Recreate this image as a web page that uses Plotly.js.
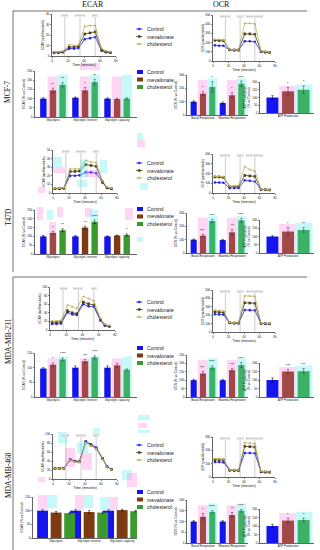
<!DOCTYPE html>
<html>
<head>
<meta charset="utf-8">
<script src="https://cdn.plot.ly/plotly-3.0.1.min.js"></script>
<style>
	html, body { margin: 0; padding: 0; background: #fff; }
	#fig { width: 320px; height: 550px; }
</style>
</head>
<body>
<div id="fig"></div>
<script>
// ---- data ----
var times = [ 2.5, 8, 13.5, 21.5, 27.5, 33, 41, 47.5, 54, 62, 67.5, 73 ];
var injectTimes = [ 16, 35, 54 ];
var ecarInjectLabels = [ "Glucose", "Oligomycin", "2-DG" ];
var ocrInjectLabels = [ "Oligomycin", "FCCP", "Rotenone/antimycin" ];
var groups = [ "Control", "mevalonate", "cholesterol" ];
var cellLines = [ "MCF-7", "T47D", "MDA-MB-231", "MDA-MB-468" ];
var ecarCats = [ "Glycolysis", "Glycolytic reserve", "Glycolytic capacity" ];
var ocrCats = [ "Basal Respiration", "Maximal Respiration" ];
var atpCats = [ "ATP Production" ];

// time courses: [ Control, mevalonate, cholesterol ]
var ecarMcf7 = [
	[ 3, 3, 3.5, 7, 7, 7.5, 16, 17, 18, 5, 3.5, 3 ],
	[ 3.5, 3.5, 4, 8.5, 8.5, 9, 21, 22, 23, 6, 4, 3.5 ],
	[ 4, 4, 4.5, 11, 10, 10.5, 28, 29, 29, 7, 5, 4 ]
];
var ecarT47d = [
	[ 5, 5, 5.5, 20, 20, 20.5, 24, 24, 23, 12, 6, 5 ],
	[ 5, 5, 5.5, 25, 25, 25.5, 33, 32, 31, 13, 6, 5 ],
	[ 5.5, 5.5, 6, 28, 28, 28, 38, 36, 35, 14, 7, 5.5 ]
];
var ecarMda231 = [
	[ 14, 14, 15, 41, 36, 35, 60, 55, 54, 22, 10, 8 ],
	[ 18, 18, 19, 45, 40, 38, 65, 61, 58, 25, 12, 9 ],
	[ 21, 21, 22, 58, 54, 50, 78, 73, 68, 27, 13, 10 ]
];
var ecarMda468 = [
	[ 24, 24, 24, 44, 40, 39, 84, 77, 70, 46, 28, 22 ],
	[ 23, 23, 23.5, 42, 39, 38, 82, 75, 68, 45, 27, 21 ],
	[ 23, 23, 23, 42, 38, 37, 81, 74, 67, 44, 27, 21 ]
];
var ocrMcf7 = [
	[ 170, 165, 165, 120, 118, 118, 215, 215, 210, 100, 95, 92 ],
	[ 225, 222, 220, 122, 120, 120, 295, 295, 290, 105, 98, 95 ],
	[ 235, 232, 230, 125, 122, 122, 410, 410, 405, 110, 100, 98 ]
];
var ocrT47d = [
	[ 108, 108, 105, 50, 50, 52, 130, 125, 118, 35, 32, 30 ],
	[ 165, 165, 160, 65, 65, 68, 180, 175, 170, 38, 34, 32 ],
	[ 172, 170, 168, 72, 72, 75, 270, 240, 225, 40, 35, 33 ]
];
var ocrMda231 = [
	[ 212, 208, 205, 108, 105, 105, 262, 260, 258, 100, 98, 96 ],
	[ 240, 236, 232, 110, 107, 106, 348, 345, 342, 103, 100, 98 ],
	[ 260, 255, 250, 112, 110, 108, 430, 428, 425, 105, 102, 100 ]
];
var ocrMda468 = [
	[ 112, 112, 110, 50, 48, 48, 180, 180, 178, 38, 36, 36 ],
	[ 130, 130, 128, 52, 50, 50, 230, 228, 225, 40, 38, 37 ],
	[ 138, 136, 135, 54, 52, 52, 258, 255, 250, 42, 40, 38 ]
];

// bar charts: [ Control, mevalonate, cholesterol ] x categories
var ecarBarsMcf7 = [ [ 100, 105, 100 ], [ 145, 145, 98 ], [ 175, 190, 100 ] ];
var ecarErrMcf7 = [ [ 5, 4, 4 ], [ 12, 15, 4 ], [ 12, 15, 5 ] ];
var ecarStarsMcf7 = [ [ "", "", "" ], [ "**", "*", "" ], [ "**", "**", "" ] ];
var ocrBarsMcf7 = [ [ 100, 90 ], [ 160, 148 ], [ 210, 235 ] ];
var ocrErrMcf7 = [ [ 6, 8 ], [ 15, 20 ], [ 40, 20 ] ];
var ocrStarsMcf7 = [ [ "", "" ], [ "*", "*" ], [ "*", "****" ] ];
var atpBarsMcf7 = [ [ 100 ], [ 140 ], [ 150 ] ];
var atpErrMcf7 = [ [ 12 ], [ 25 ], [ 25 ] ];
var atpStarsMcf7 = [ [ "" ], [ "*" ], [ "*" ] ];

var ecarBarsT47d = [ [ 100, 100, 100 ], [ 120, 150, 105 ], [ 135, 183, 108 ] ];
var ecarErrT47d = [ [ 5, 5, 3 ], [ 8, 8, 3 ], [ 8, 10, 6 ] ];
var ecarStarsT47d = [ [ "", "", "" ], [ "*", "**", "" ], [ "**", "****", "*" ] ];
var ocrBarsT47d = [ [ 100, 97 ], [ 130, 155 ], [ 240, 245 ] ];
var ocrErrT47d = [ [ 5, 5 ], [ 10, 20 ], [ 12, 15 ] ];
var ocrStarsT47d = [ [ "", "" ], [ "***", "**" ], [ "****", "****" ] ];
var atpBarsT47d = [ [ 100 ], [ 130 ], [ 140 ] ];
var atpErrT47d = [ [ 5 ], [ 25 ], [ 15 ] ];
var atpStarsT47d = [ [ "" ], [ "*" ], [ "**" ] ];

var ecarBarsMda231 = [ [ 97, 100, 100 ], [ 110, 122, 108 ], [ 128, 135, 93 ] ];
var ecarErrMda231 = [ [ 3, 6, 6 ], [ 6, 6, 7 ], [ 5, 5, 3 ] ];
var ecarStarsMda231 = [ [ "", "", "" ], [ "*", "***", "" ], [ "****", "****", "" ] ];
var ocrBarsMda231 = [ [ 100, 100 ], [ 140, 160 ], [ 175, 190 ] ];
var ocrErrMda231 = [ [ 5, 5 ], [ 12, 10 ], [ 10, 15 ] ];
var ocrStarsMda231 = [ [ "", "" ], [ "***", "***" ], [ "****", "****" ] ];
var atpBarsMda231 = [ [ 100 ], [ 150 ], [ 152 ] ];
var atpErrMda231 = [ [ 12 ], [ 12 ], [ 15 ] ];
var atpStarsMda231 = [ [ "" ], [ "***" ], [ "***" ] ];

var ecarBarsMda468 = [ [ 100, 100, 100 ], [ 93, 95, 102 ], [ 91, 93, 98 ] ];
var ecarErrMda468 = [ [ 4, 4, 4 ], [ 4, 5, 3 ], [ 3, 3, 3 ] ];
var ecarStarsMda468 = [ [ "", "", "" ], [ "", "", "" ], [ "", "", "" ] ];
var ocrBarsMda468 = [ [ 100, 100 ], [ 122, 130 ], [ 144, 150 ] ];
var ocrErrMda468 = [ [ 4, 4 ], [ 15, 12 ], [ 6, 6 ] ];
var ocrStarsMda468 = [ [ "", "" ], [ "*", "**" ], [ "****", "****" ] ];
var atpBarsMda468 = [ [ 100 ], [ 132 ], [ 135 ] ];
var atpErrMda468 = [ [ 10 ], [ 15 ], [ 12 ] ];
var atpStarsMda468 = [ [ "" ], [ "*" ], [ "*" ] ];


// ---- styling / placement ----
var tcColors 	= [ "#2424ff", "#4f3f12", "#c2b55c" ],
	tcSymbols 	= [ "circle", "square", "triangle-up" ],
	barColors 	= [ "#1414ee", "#7d3b12", "#3a9a2e" ],
	fontSans 	= "Liberation Sans, Arial, sans-serif",
	fontSerif 	= "Liberation Serif, Times New Roman, serif";

var W = 320, H = 550;
function px( v ) { return v / W; }
function py( v ) { return 1 - v / H; }

// pixel boxes [ x0, x1, y0, y1 ] per row
var rows = [
	{ ecarTc: ecarMcf7, ocrTc: ocrMcf7, ecarMax: 40, ecarStep: 10, ocrMax: 500, ocrStep: 100,
	  ecarBars: ecarBarsMcf7, ecarErr: ecarErrMcf7, ecarStars: ecarStarsMcf7, ecarBarMax: 250, ecarBarStep: 50,
	  ocrBars: ocrBarsMcf7, ocrErr: ocrErrMcf7, ocrStars: ocrStarsMcf7, ocrBarMax: 300, ocrBarStep: 100,
	  atpBars: atpBarsMcf7, atpErr: atpErrMcf7, atpStars: atpStarsMcf7,
	  boxEcarTc: [ 52, 116, 14, 56 ], boxEcarBar: [ 35, 137, 71, 117 ], boxOcrTc: [ 213, 275, 15, 61 ],
	  boxOcrBar: [ 187, 248, 75, 115 ], boxAtp: [ 260, 314, 82, 113 ], labelY: 92, tcLeg: 29, barLeg: 72, wide: false, overlay: true },
	{ ecarTc: ecarT47d, ocrTc: ocrT47d, ecarMax: 50, ecarStep: 10, ocrMax: 400, ocrStep: 100,
	  ecarBars: ecarBarsT47d, ecarErr: ecarErrT47d, ecarStars: ecarStarsT47d, ecarBarMax: 250, ecarBarStep: 50,
	  ocrBars: ocrBarsT47d, ocrErr: ocrErrT47d, ocrStars: ocrStarsT47d, ocrBarMax: 300, ocrBarStep: 100,
	  atpBars: atpBarsT47d, atpErr: atpErrT47d, atpStars: atpStarsT47d,
	  boxEcarTc: [ 53, 117, 150, 193 ], boxEcarBar: [ 35, 137, 210, 254 ], boxOcrTc: [ 213, 275, 154, 193 ],
	  boxOcrBar: [ 187, 248, 213, 253 ], boxAtp: [ 260, 314, 220, 253 ], labelY: 217, tcLeg: 163, barLeg: 209, wide: false, overlay: false },
	{ ecarTc: ecarMda231, ocrTc: ocrMda231, ecarMax: 100, ecarStep: 20, ocrMax: 500, ocrStep: 100,
	  ecarBars: ecarBarsMda231, ecarErr: ecarErrMda231, ecarStars: ecarStarsMda231, ecarBarMax: 150, ecarBarStep: 50,
	  ocrBars: ocrBarsMda231, ocrErr: ocrErrMda231, ocrStars: ocrStarsMda231, ocrBarMax: 250, ocrBarStep: 50,
	  atpBars: atpBarsMda231, atpErr: atpErrMda231, atpStars: atpStarsMda231,
	  boxEcarTc: [ 50, 115, 287, 330 ], boxEcarBar: [ 35, 137, 353, 397 ], boxOcrTc: [ 213, 275, 290, 332 ],
	  boxOcrBar: [ 187, 248, 355, 397 ], boxAtp: [ 260, 314, 363, 397 ], labelY: 341, tcLeg: 302, barLeg: 348, wide: false, overlay: true },
	{ ecarTc: ecarMda468, ocrTc: ocrMda468, ecarMax: 100, ecarStep: 20, ocrMax: 300, ocrStep: 100,
	  ecarBars: ecarBarsMda468, ecarErr: ecarErrMda468, ecarStars: ecarStarsMda468, ecarBarMax: 150, ecarBarStep: 50,
	  ocrBars: ocrBarsMda468, ocrErr: ocrErrMda468, ocrStars: ocrStarsMda468, ocrBarMax: 200, ocrBarStep: 50,
	  atpBars: atpBarsMda468, atpErr: atpErrMda468, atpStars: atpStarsMda468,
	  boxEcarTc: [ 53, 117, 434, 479 ], boxEcarBar: [ 33, 137, 497, 538 ], boxOcrTc: [ 213, 275, 437, 477 ],
	  boxOcrBar: [ 187, 248, 500, 543 ], boxAtp: [ 260, 314, 509, 543 ], labelY: 475, tcLeg: 445, barLeg: 492, wide: true, overlay: false }
];

// scanner-like pink / cyan blotches on the original, in pixels [ x0, y0, x1, y1, colour ]
var PINK = "rgba(255,110,215,0.28)", CYAN = "rgba(70,235,235,0.3)";
var blotches = [
	[ 80, 63, 100, 70, PINK ], [ 137, 133, 143, 140, CYAN ],
	[ 53, 157, 62, 167, CYAN ], [ 53, 167, 65, 173, PINK ], [ 80, 160, 88, 177, CYAN ],
	[ 85, 170, 100, 177, PINK ], [ 100, 160, 107, 173, CYAN ], [ 137, 140, 145, 147, PINK ],
	[ 140, 183, 148, 190, CYAN ], [ 38, 187, 45, 193, PINK ], [ 77, 180, 87, 187, CYAN ],
	[ 37, 207, 43, 220, PINK ], [ 47, 210, 53, 220, CYAN ], [ 57, 207, 63, 217, PINK ],
	[ 85, 208, 92, 217, PINK ], [ 90, 210, 98, 222, CYAN ], [ 125, 208, 133, 220, PINK ], [ 137, 237, 143, 242, CYAN ],
	[ 49, 222, 56, 254, PINK ],
	[ 138, 415, 150, 420, CYAN ], [ 138, 423, 147, 428, PINK ], [ 138, 430, 150, 433, CYAN ],
	[ 38, 477, 45, 482, PINK ], [ 58, 432, 67, 443, CYAN ], [ 65, 448, 75, 467, PINK ],
	[ 77, 442, 88, 453, CYAN ], [ 82, 453, 92, 470, PINK ], [ 122, 470, 132, 480, CYAN ],
	[ 127, 473, 137, 487, PINK ], [ 93, 428, 100, 435, CYAN ],
	[ 38, 495, 47, 510, PINK ], [ 47, 495, 57, 508, CYAN ], [ 75, 495, 83, 510, PINK ],
	[ 83, 495, 93, 508, CYAN ], [ 100, 497, 110, 510, CYAN ], [ 110, 497, 118, 510, PINK ]
];


// ---- build figure ----
var traces = [], shapes = [], annotations = [];
var layout = {
	width: W, height: H,
	margin: { l: 0, r: 0, t: 0, b: 0 },
	paper_bgcolor: "#fff", plot_bgcolor: "rgba(0,0,0,0)",
	showlegend: false,
	barmode: "overlay",
	font: { family: fontSans, size: 3.5, color: "#111" }
};

function axBase( extra )
{
	return Object.assign( {
		showline: true, linecolor: "#000", linewidth: 0.6,
		ticks: "outside", ticklen: 1.5, tickwidth: 0.5, tickcolor: "#000",
		tickfont: { size: 3, family: fontSans, color: "#111" },
		showgrid: false, zeroline: false, fixedrange: true, automargin: false
	}, extra );
}

function tickList( max, step )
{
	let t = [];
	for( let v = 0; v <= max + 1e-9; v += step )
		t.push( v );
	return t;
}

var axisCount = 0;
function addAxes( box, xopt, yopt )
{
	axisCount++;
	let s = axisCount === 1 ? "" : axisCount;
	layout[ "xaxis" + s ] = axBase( Object.assign( { domain: [ px( box[ 0 ] ), px( box[ 1 ] ) ], anchor: "y" + s }, xopt ) );
	layout[ "yaxis" + s ] = axBase( Object.assign( { domain: [ py( box[ 3 ] ), py( box[ 2 ] ) ], anchor: "x" + s }, yopt ) );
	return { xa: "x" + s, ya: "y" + s };
}

function timeCourse( box, series, yMax, yStep, yTitle, injLabels )
{
	let ax = addAxes( box,
		{ range: [ 0, 80 ], tickvals: [ 0, 20, 40, 60, 80 ],
		  title: { text: "Time (minutes)", font: { size: 3.5 }, standoff: 1 } },
		{ range: [ 0, yMax ], tickvals: tickList( yMax, yStep ),
		  title: { text: yTitle, font: { size: 3 }, standoff: 1 } } );

	for( let k = 0; k < 3; k++ )
	{
		traces.push( {
			type: "scatter", mode: "lines+markers",
			x: times, y: series[ k ],
			xaxis: ax.xa, yaxis: ax.ya,
			line: { color: tcColors[ k ], width: 0.8 },
			marker: { color: tcColors[ k ], size: 2.6, symbol: tcSymbols[ k ] },
			hoverinfo: "skip"
		} );
	}

	for( let i = 0; i < injectTimes.length; i++ )
	{
		shapes.push( {
			type: "line", xref: ax.xa, yref: ax.ya + " domain",
			x0: injectTimes[ i ], x1: injectTimes[ i ], y0: 0, y1: 1,
			line: { color: "#999", width: 0.5 }
		} );
		annotations.push( {
			xref: ax.xa, yref: ax.ya + " domain", x: injectTimes[ i ], y: 0.99,
			xanchor: "center", yanchor: "top", showarrow: false,
			text: injLabels[ i ], font: { size: 1.8, color: "#777" },
			bgcolor: "#fff", bordercolor: "#aaa", borderwidth: 0.25, borderpad: 0.2
		} );
	}
}

function barChart( box, cats, vals, errs, stars, yMax, yStep, yTitle, xRange, spacing, barW, overlay )
{
	let ax = addAxes( box,
		{ type: "category", range: xRange, ticks: "", tickangle: 0,
		  tickfont: { size: 3, family: fontSans, color: "#111" } },
		{ range: [ 0, yMax ], tickvals: tickList( yMax, yStep ),
		  title: { text: yTitle, font: { size: 3.2 }, standoff: 1 } } );

	for( let k = 0; k < 3; k++ )
	{
		traces.push( {
			type: "bar", x: cats, y: vals[ k ],
			xaxis: ax.xa, yaxis: ax.ya,
			width: barW, offset: ( k - 1 ) * spacing - barW / 2,
			marker: { color: barColors[ k ], line: { width: 0 } },
			error_y: { type: "data", array: errs[ k ], visible: true, color: "#000", thickness: 0.5, width: 1.2 },
			hoverinfo: "skip"
		} );

		for( let i = 0; i < cats.length; i++ )
		{
			if( !stars[ k ][ i ] )
				continue;
			annotations.push( {
				xref: ax.xa, yref: ax.ya, x: i + ( k - 1 ) * spacing, y: vals[ k ][ i ] + errs[ k ][ i ],
				xanchor: "center", yanchor: "bottom", yshift: -0.5, showarrow: false,
				text: stars[ k ][ i ], font: { size: 3.6, color: "#000" }
			} );
		}
	}

	if( overlay )
	{
		for( let i = 0; i < cats.length; i++ )
		{
			shapes.push( { type: "rect", layer: "above", xref: ax.xa, yref: ax.ya + " domain",
				x0: i - spacing / 2 - 0.02, x1: i + spacing / 2, y0: 0, y1: 0.88,
				fillcolor: PINK, line: { width: 0 } } );
			shapes.push( { type: "rect", layer: "above", xref: ax.xa, yref: ax.ya + " domain",
				x0: i + spacing / 2, x1: i + 1.5 * spacing + 0.02, y0: 0, y1: 0.92,
				fillcolor: CYAN, line: { width: 0 } } );
		}
	}
}

function legendBlock( top, isBar )
{
	for( let k = 0; k < 3; k++ )
	{
		let yc = top + k * 7.5;
		if( isBar )
		{
			shapes.push( { type: "rect", xref: "paper", yref: "paper",
				x0: px( 137 ), x1: px( 143 ), y0: py( yc + 2 ), y1: py( yc - 2 ),
				fillcolor: barColors[ k ], line: { width: 0 } } );
		}
		else
		{
			shapes.push( { type: "line", xref: "paper", yref: "paper",
				x0: px( 136 ), x1: px( 142.5 ), y0: py( yc ), y1: py( yc ),
				line: { color: tcColors[ k ], width: 0.8 } } );
			shapes.push( { type: k === 1 ? "rect" : "circle", xref: "paper", yref: "paper",
				x0: px( 138 ), x1: px( 140.5 ), y0: py( yc + 1.2 ), y1: py( yc - 1.2 ),
				fillcolor: tcColors[ k ], line: { width: 0 } } );
		}
		annotations.push( {
			xref: "paper", yref: "paper", x: px( 145 ), y: py( yc ),
			xanchor: "left", yanchor: "middle", showarrow: false,
			text: groups[ k ], font: { size: 5.2, color: "#222" }
		} );
	}
}

rows.forEach( ( r, ri ) => {
	timeCourse( r.boxEcarTc, r.ecarTc, r.ecarMax, r.ecarStep, "ECAR (mpH/min/cells)", ecarInjectLabels );
	barChart( r.boxEcarBar, ecarCats, r.ecarBars, r.ecarErr, r.ecarStars, r.ecarBarMax, r.ecarBarStep,
		"ECAR (% vs Control)",
		r.wide ? [ -0.7, 2.45 ] : [ -0.56, 2.62 ],
		r.wide ? 0.41 : 0.3, r.wide ? 0.33 : 0.2, r.overlay );
	timeCourse( r.boxOcrTc, r.ocrTc, r.ocrMax, r.ocrStep, "OCR (pmol/min/cells)", ocrInjectLabels );
	barChart( r.boxOcrBar, ocrCats, r.ocrBars, r.ocrErr, r.ocrStars, r.ocrBarMax, r.ocrBarStep,
		"OCR (% vs Control)", [ -0.55, 1.55 ], 0.32, 0.21, true );
	barChart( r.boxAtp, atpCats, r.atpBars, r.atpErr, r.atpStars, 200, 50,
		"ATP Production<br>(% vs Control)", [ -0.54, 0.5 ], 0.3, 0.23, true );

	legendBlock( r.tcLeg, false );
	legendBlock( r.barLeg, true );

	annotations.push( {
		xref: "paper", yref: "paper", x: px( 8 ), y: py( r.labelY ),
		xanchor: "center", yanchor: "middle", textangle: -90, showarrow: false,
		text: cellLines[ ri ], font: { family: fontSerif, size: 7.5, color: "#111" }
	} );
} );

// column titles and frames
annotations.push( { xref: "paper", yref: "paper", x: px( 80 ), y: py( 5 ), yanchor: "middle", showarrow: false,
	text: "ECAR", font: { family: fontSerif, size: 8, color: "#111" } } );
annotations.push( { xref: "paper", yref: "paper", x: px( 232 ), y: py( 5 ), yanchor: "middle", showarrow: false,
	text: "OCR", font: { family: fontSerif, size: 8, color: "#111" } } );

[ [ 13, 11, 307, 11 ], [ 13, 11, 13, 272 ], [ 13, 277, 307, 277 ], [ 13, 277, 13, 550 ] ].forEach( ( l ) => {
	shapes.push( { type: "line", xref: "paper", yref: "paper",
		x0: px( l[ 0 ] ), y0: py( l[ 1 ] ), x1: px( l[ 2 ] ), y1: py( l[ 3 ] ),
		line: { color: "#333", width: 0.7 } } );
} );

blotches.forEach( ( b ) => {
	shapes.push( { type: "rect", layer: "above", xref: "paper", yref: "paper",
		x0: px( b[ 0 ] ), x1: px( b[ 2 ] ), y0: py( b[ 3 ] ), y1: py( b[ 1 ] ),
		fillcolor: b[ 4 ], line: { width: 0 } } );
} );

layout.shapes = shapes;
layout.annotations = annotations;

Plotly.newPlot( "fig", traces, layout, { staticPlot: true } );
</script>
</body>
</html>
